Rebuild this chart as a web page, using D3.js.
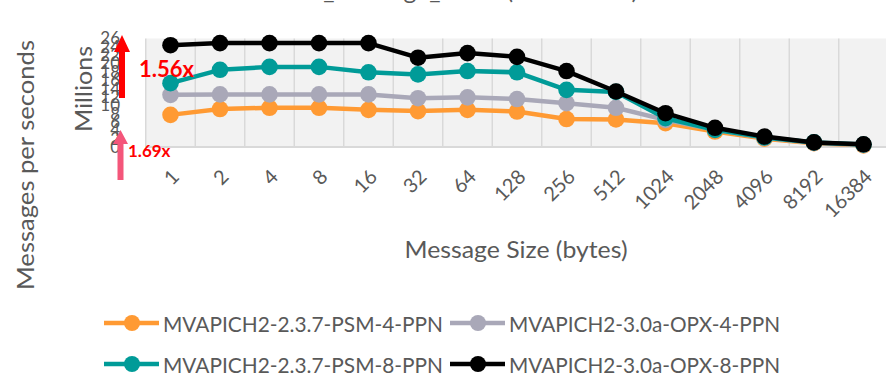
<!DOCTYPE html>
<html>
<head>
<meta charset="utf-8">
<script src="https://cdn.jsdelivr.net/npm/d3@7/dist/d3.min.js"></script>
<style>
  html, body { margin: 0; padding: 0; background: #ffffff; overflow: hidden; }
  svg { display: block; }
  text { font-family: Lato, "Open Sans", sans-serif; fill: #595959; }
</style>
</head>
<body>
<svg id="chart" width="886" height="379"></svg>
<script>
// ---------- data ----------
const categories = ["1","2","4","8","16","32","64","128","256","512","1024","2048","4096","8192","16384"];
const psm4 = [7.7, 9.1, 9.4, 9.4, 8.9, 8.6, 8.9, 8.5, 6.7, 6.6, 5.7, 3.7, 2.0, 0.9, 0.4];
const opx4 = [12.5, 12.6, 12.6, 12.6, 12.6, 11.7, 11.9, 11.5, 10.5, 9.4, 6.5, 4.1, 2.2, 1.0, 0.5];
const psm8 = [15.3, 18.5, 19.2, 19.2, 17.9, 17.4, 18.2, 17.9, 13.7, 13.2, 6.9, 4.1, 2.3, 1.1, 0.6];
const opx8 = [24.4, 24.9, 24.9, 24.9, 24.9, 21.4, 22.5, 21.6, 18.2, 13.3, 8.1, 4.6, 2.5, 1.1, 0.65];
const yTicks = [0, 2, 4, 6, 8, 10, 12, 14, 16, 18, 20, 22, 24, 26];
const seriesNames = ["MVAPICH2-2.3.7-PSM-4-PPN", "MVAPICH2-3.0a-OPX-4-PPN", "MVAPICH2-2.3.7-PSM-8-PPN", "MVAPICH2-3.0a-OPX-8-PPN"];
const seriesColors = ["#FF9A33", "#A9A8B8", "#009B98", "#000000"];
const seriesValues = [psm4, opx4, psm8, opx8];
const titleText = "OSU_Message_Rates (Inter-Node)";

// ---------- layout ----------
const svg = d3.select("#chart");
const plot = { left: 145.75, right: 888.25, top: 38.5, bottom: 147 };

const x = d3.scaleBand().domain(categories).range([plot.left, plot.right]).padding(0);
const y = d3.scaleLinear().domain([0, 26]).range([plot.bottom, plot.top]);
const cx = c => x(c) + x.bandwidth() / 2;

// title (clipped at top)
svg.append("text")
  .attr("x", 272).attr("y", -1)
  .attr("textLength", 366)
  .attr("lengthAdjust", "spacingAndGlyphs")
  .style("font-size", "24px")
  .text(titleText);

// plot background
svg.append("rect")
  .attr("x", plot.left).attr("y", plot.top)
  .attr("width", plot.right - plot.left).attr("height", plot.bottom - plot.top)
  .attr("fill", "#F2F2F2");

// vertical gridlines at category boundaries
svg.append("g").selectAll("line")
  .data(categories)
  .join("line")
  .attr("x1", d => x(d)).attr("x2", d => x(d))
  .attr("y1", plot.top).attr("y2", plot.bottom)
  .attr("stroke", "#D9D9D9").attr("stroke-width", 1.5);

// bottom axis line
svg.append("line")
  .attr("x1", plot.left).attr("x2", plot.right)
  .attr("y1", plot.bottom).attr("y2", plot.bottom)
  .attr("stroke", "#D9D9D9").attr("stroke-width", 2);

// y axis (labels only)
const yAxis = d3.axisLeft(y).tickValues(yTicks).tickSize(0).tickPadding(0);
const yg = svg.append("g").attr("transform", "translate(120,0)").call(yAxis);
yg.select(".domain").remove();
yg.selectAll("text").style("font-size", "17px").style("font-family", "Lato, sans-serif").attr("fill", "#595959");

// x axis labels rotated
const xAxis = d3.axisBottom(x).tickSize(0).tickPadding(0);
const xg = svg.append("g").attr("transform", `translate(0,${plot.bottom})`).call(xAxis);
xg.select(".domain").remove();
xg.selectAll("text")
  .style("font-size", "20px").style("font-family", "Lato, sans-serif").attr("fill", "#595959")
  .attr("text-anchor", "end")
  .attr("dy", null)
  .attr("transform", "translate(10,31) rotate(-45)");

// series
const line = d3.line().x((d, i) => cx(categories[i])).y(d => y(d));
seriesValues.forEach((vals, si) => {
  const g = svg.append("g");
  g.append("path").datum(vals)
    .attr("d", line)
    .attr("fill", "none")
    .attr("stroke", seriesColors[si])
    .attr("stroke-width", 4.5)
    .attr("stroke-linejoin", "round");
  g.selectAll("circle").data(vals).join("circle")
    .attr("cx", (d, i) => cx(categories[i]))
    .attr("cy", d => y(d))
    .attr("r", 8.3)
    .attr("fill", seriesColors[si]);
});

// axis titles
svg.append("text")
  .attr("transform", "translate(92,89) rotate(-90)")
  .attr("text-anchor", "middle")
  .attr("textLength", 86).attr("lengthAdjust", "spacingAndGlyphs")
  .style("font-size", "24px")
  .text("Millions");
svg.append("text")
  .attr("transform", "translate(34,165) rotate(-90)")
  .attr("text-anchor", "middle")
  .attr("textLength", 250).attr("lengthAdjust", "spacingAndGlyphs")
  .style("font-size", "24px")
  .text("Messages per seconds");
svg.append("text")
  .attr("x", 516).attr("y", 258)
  .attr("text-anchor", "middle")
  .attr("textLength", 223).attr("lengthAdjust", "spacingAndGlyphs")
  .style("font-size", "24px")
  .text("Message Size (bytes)");

// annotations
function arrow(xc, tip, headBase, bottom, shaftW, headW, color) {
  const p = d3.path();
  p.moveTo(xc, tip);
  p.lineTo(xc + headW / 2, headBase);
  p.lineTo(xc + shaftW / 2, headBase);
  p.lineTo(xc + shaftW / 2, bottom);
  p.lineTo(xc - shaftW / 2, bottom);
  p.lineTo(xc - shaftW / 2, headBase);
  p.lineTo(xc - headW / 2, headBase);
  p.closePath();
  svg.append("path").attr("d", p.toString()).attr("fill", color);
}
arrow(122, 35, 52, 98, 6, 16, "#FF0000");
arrow(120.5, 130, 144, 180, 6, 15, "#F4567A");

svg.append("text")
  .attr("x", 139).attr("y", 77)
  .style("font-size", "22px").style("font-weight", "bold")
  .style("fill", "#FF0000")
  .text("1.56x");
svg.append("text")
  .attr("x", 128).attr("y", 157)
  .style("font-size", "17px").style("font-weight", "bold")
  .style("fill", "#FF0000")
  .text("1.69x");

// legend
const legendPos = [[104, 323], [450, 323], [104, 364], [450, 364]];
const legendLen = [280, 271, 280, 271];
seriesNames.forEach((name, i) => {
  const [lx, ly] = legendPos[i];
  const g = svg.append("g");
  g.append("line")
    .attr("x1", lx).attr("x2", lx + 55)
    .attr("y1", ly).attr("y2", ly)
    .attr("stroke", seriesColors[i]).attr("stroke-width", 4.5);
  g.append("circle").attr("cx", lx + 28).attr("cy", ly).attr("r", 8).attr("fill", seriesColors[i]);
  g.append("text")
    .attr("x", lx + 59).attr("y", ly)
    .attr("dominant-baseline", "central")
    .attr("textLength", legendLen[i]).attr("lengthAdjust", "spacingAndGlyphs")
    .style("font-size", "21px")
    .text(name);
});
</script>
</body>
</html>
